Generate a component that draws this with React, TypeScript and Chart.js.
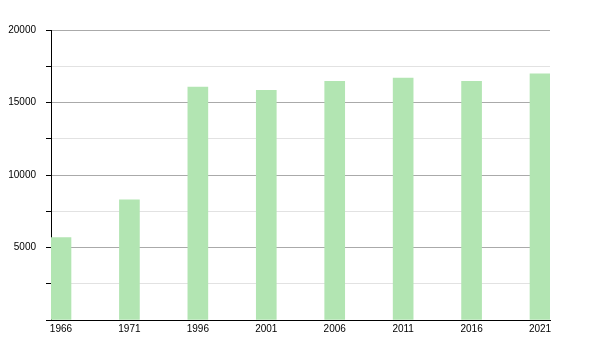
import React, { useEffect, useRef } from "react";
import { Chart, registerables } from "chart.js";

Chart.register(...registerables);

const years = ["1966", "1971", "1996", "2001", "2006", "2011", "2016", "2021"];
const population = [5680, 8280, 16070, 15840, 16460, 16690, 16460, 16970];
const yTickLabels = [5000, 10000, 15000, 20000];

export default function App() {
  const ref = useRef<HTMLCanvasElement | null>(null);
  useEffect(() => {
    if (!ref.current) return;
    const font = { family: "'Liberation Sans', Arial, sans-serif", size: 10 };
    const chart = new Chart(ref.current, {
      type: "bar",
      data: {
        datasets: [
          {
            data: population.map((v, i) => ({ x: i, y: v })),
            backgroundColor: "rgb(178,229,178)",
            borderWidth: 0,
            barThickness: 20,
          },
        ],
      },
      options: {
        responsive: false,
        animation: false,
        layout: { padding: { left: 0, right: 50, top: 30, bottom: 0 } },
        plugins: { legend: { display: false }, tooltip: { enabled: false } },
        scales: {
          x: {
            type: "linear",
            offset: false,
            min: -0.146,
            max: 7.146,
            afterBuildTicks: (axis: any) => {
              axis.ticks = years.map((_, i) => ({ value: i }));
            },
            afterFit: (axis: any) => {
              axis.height = 30;
            },
            grid: { display: false, drawTicks: false },
            border: { display: true, color: "#000", width: 1 },
            ticks: {
              color: "#000",
              font,
              padding: 3,
              maxRotation: 0,
              autoSkip: false,
              callback: (v: any) => years[Math.round(Number(v))] ?? "",
            },
          },
          y: {
            min: 0,
            max: 20000,
            afterFit: (axis: any) => {
              axis.width = 51;
            },
            ticks: {
              stepSize: 2500,
              color: "#000",
              font,
              padding: 10,
              callback: (v: any) => (yTickLabels.includes(Number(v)) ? String(v) : ""),
            },
            grid: {
              color: (ctx: any) =>
                ctx.tick && ctx.tick.value % 5000 === 0 ? "#aaaaaa" : "#e2e2e2",
              tickColor: "#000",
              tickLength: 5,
              lineWidth: 1,
            },
            border: { display: true, color: "#000", width: 1 },
          },
        },
      },
    });
    return () => chart.destroy();
  }, []);
  return (
    <div style={{ position: "fixed", left: 0, top: 0, width: 600, height: 350, background: "#fff" }}>
      <canvas ref={ref} width={600} height={350} style={{ width: 600, height: 350 }} />
    </div>
  );
}
